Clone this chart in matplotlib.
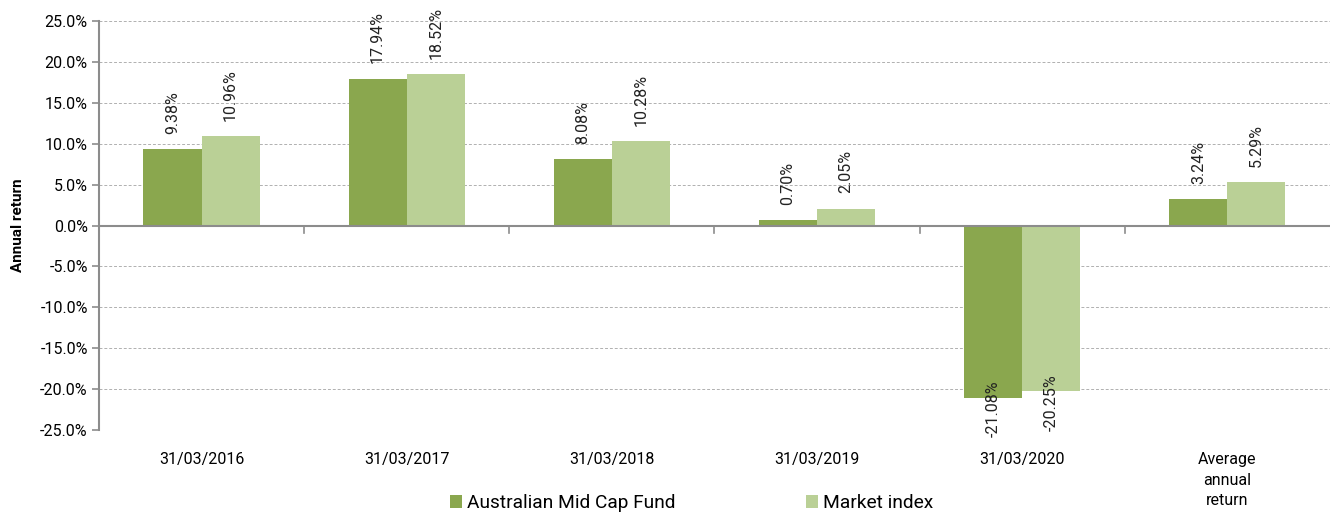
import matplotlib.pyplot as plt
import numpy as np
from matplotlib.ticker import FuncFormatter

plt.rcParams['font.family'] = ['Roboto', 'DejaVu Sans']

categories = ["31/03/2016", "31/03/2017", "31/03/2018", "31/03/2019", "31/03/2020",
              "Average\nannual\nreturn"]
fund = [9.38, 17.94, 8.08, 0.70, -21.08, 3.24]
market = [10.96, 18.52, 10.28, 2.05, -20.25, 5.29]
series_names = ["Australian Mid Cap Fund", "Market index"]
colors = ["#8aa74e", "#bad096"]

fig = plt.figure(figsize=(13.3, 5.14), dpi=100)
ax = fig.add_axes([0.0744, 0.1634, 0.9256, 0.7957])

x = np.arange(len(categories))
w = 0.283
bars1 = ax.bar(x - w / 2, fund, width=w, color=colors[0], label=series_names[0], zorder=3)
bars2 = ax.bar(x + w / 2, market, width=w, color=colors[1], label=series_names[1], zorder=3)

for bars, vals in ((bars1, fund), (bars2, market)):
    for b, v in zip(bars, vals):
        cx = b.get_x() + b.get_width() / 2
        if v >= 0:
            ax.annotate(f"{v:.2f}%", (cx, v), xytext=(0, 11), textcoords="offset points",
                        rotation=90, ha="center", va="bottom", fontsize=11.5, color="#222222")
        else:
            ax.annotate(f"{v:.2f}%", (cx, v), xytext=(0, -8), textcoords="offset points",
                        rotation=90, ha="center", va="center", fontsize=11.5, color="#222222")

ax.set_ylim(-25, 25)
ax.set_xlim(-0.5, len(categories) - 0.5)
ax.set_yticks(np.arange(-25, 25.1, 5))
ax.yaxis.set_major_formatter(FuncFormatter(lambda v, p: f"{v:.1f}%"))
ax.grid(axis="y", color="#b0b0b0", linestyle=(0, (3, 2)), linewidth=0.7, zorder=0)

for s in ["top", "right", "bottom"]:
    ax.spines[s].set_visible(False)
ax.spines["left"].set_color("#8c8c8c")
ax.spines["left"].set_linewidth(1.5)
ax.axhline(0, color="#8c8c8c", linewidth=1.5, zorder=4)
for b in np.arange(0.5, len(categories) - 0.5, 1):
    ax.plot([b, b], [0, -0.9], color="#8c8c8c", linewidth=1.2, zorder=4, clip_on=False)

ax.tick_params(axis="y", length=5, color="#8c8c8c", width=1.2, labelsize=11.5, pad=3)
ax.tick_params(axis="x", length=0, labelsize=11.5, pad=16)
ax.set_xticks(x)
ax.set_xticklabels(categories, linespacing=1.45)
ax.set_ylabel("Annual return", fontsize=11, fontweight="bold", labelpad=11)

fig.legend(loc="lower center", bbox_to_anchor=(0.52, -0.03), ncol=2, frameon=False,
           fontsize=13.8, handlelength=0.62, handleheight=0.62, handletextpad=0.25,
           columnspacing=6.8)

fig.savefig("out.png", dpi=100)
